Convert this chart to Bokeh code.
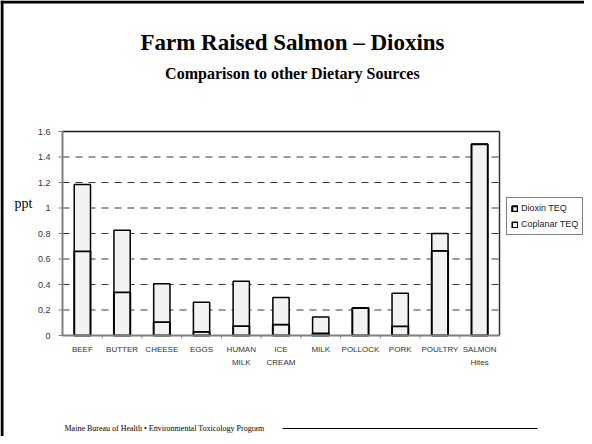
from bokeh.plotting import figure
from bokeh.models import Legend, LegendItem, Range1d, ColumnDataSource
from bokeh.core.properties import value
from bokeh.embed import file_html
from bokeh.resources import INLINE

# ---- data ----
categories = ["BEEF", "BUTTER", "CHEESE", "EGGS", "HUMAN\nMILK", "ICE\nCREAM",
              "MILK", "POLLOCK", "PORK", "POULTRY", "SALMON\nHites"]
dioxin_teq = [0.66, 0.34, 0.105, 0.03, 0.075, 0.087, 0.017, 0.215, 0.072, 0.665, 1.50]
coplanar_teq = [0.525, 0.485, 0.30, 0.23, 0.35, 0.212, 0.128, 0.0, 0.26, 0.135, 0.0]
y_ticks = [0, 0.2, 0.4, 0.6, 0.8, 1.0, 1.2, 1.4, 1.6]
y_tick_labels = ["0", "0.2", "0.4", "0.6", "0.8", "1", "1.2", "1.4", "1.6"]
series_names = ["Dioxin TEQ", "Coplanar TEQ"]

title_text = "Farm Raised Salmon \u2013 Dioxins"
subtitle_text = "Comparison to other Dietary Sources"
footer_text = "Maine Bureau of Health \u2022 Environmental Toxicology Program"
y_unit_text = "ppt"

# ---- layout (canvas pixels) ----
W, H = 584, 436
PL, PR, PT, PB = 62, 499, 131, 335          # plot area edges
n = len(categories)
y_max = y_ticks[-1]
px_cat = (PR - PL) / n
px_val = (PB - PT) / y_max

p = figure(width=W, height=H, x_range=Range1d(0, W), y_range=Range1d(H, 0),
           x_axis_type=None, y_axis_type=None, min_border=0,
           output_backend="svg", toolbar_location=None,
           background_fill_color="white", border_fill_color="white")
p.grid.visible = False
p.outline_line_color = None

p.extra_x_ranges = {"cat": Range1d(-PL / px_cat, n + (W - PR) / px_cat)}
p.extra_y_ranges = {"val": Range1d(-(H - PB) / px_val, y_max + PT / px_val)}
XR, YR = "cat", "val"

pos = [i + 0.5 for i in range(n)]
src = ColumnDataSource(dict(x=pos, dioxin=dioxin_teq, coplanar=coplanar_teq))

# dashed grid
grid_vals = y_ticks[1:-1]
p.segment(x0=[0] * len(grid_vals), x1=[n] * len(grid_vals), y0=grid_vals, y1=grid_vals,
          x_range_name=XR, y_range_name=YR, line_color="#3a3a3a", line_width=1.1,
          line_dash="7 6")

# frame: top & right
p.segment(x0=[0], x1=[n], y0=[y_max], y1=[y_max], x_range_name=XR, y_range_name=YR,
          line_color="#1a1a1a", line_width=1.5)
p.segment(x0=[n], x1=[n], y0=[0], y1=[y_max], x_range_name=XR, y_range_name=YR,
          line_color="#333333", line_width=1.5)

# bars
renderers = p.vbar_stack(["dioxin", "coplanar"], x="x", width=0.41, source=src,
                         x_range_name=XR, y_range_name=YR,
                         fill_color=["#f2f2f2", "#f2f2f2"], line_color="black",
                         line_width=[2, 1.5])

# axes lines
p.segment(x0=[0], x1=[0], y0=[0], y1=[y_max], x_range_name=XR, y_range_name=YR,
          line_color="#808080", line_width=2)
p.segment(x0=[0], x1=[n], y0=[0], y1=[0], x_range_name=XR, y_range_name=YR,
          line_color="#808080", line_width=2)

# y ticks and labels
p.segment(x0=[-4 / px_cat] * len(y_ticks), x1=[0] * len(y_ticks), y0=y_ticks, y1=y_ticks,
          x_range_name=XR, y_range_name=YR, line_color="#808080", line_width=1)
p.text(x=[0] * len(y_ticks), y=y_ticks, text=y_tick_labels, x_offset=-12,
       x_range_name=XR, y_range_name=YR, text_font=value("Liberation Sans"),
       text_font_size="9px", text_color="#333333", text_align="right",
       text_baseline="middle")

# x category separators and labels
bounds = list(range(1, n))
p.segment(x0=bounds, x1=bounds, y0=[0] * len(bounds), y1=[-3 / px_val] * len(bounds),
          x_range_name=XR, y_range_name=YR, line_color="#808080", line_width=1)
p.text(x=pos, y=[0] * n, text=categories, y_offset=9, x_range_name=XR, y_range_name=YR,
       text_font=value("Liberation Sans"), text_font_size="8px", text_color="#333333",
       text_align="center", text_baseline="top", text_line_height=1.5)

# titles and other texts (canvas pixels)
p.text(x=[292], y=[42], text=[title_text], text_font=value("Liberation Serif"),
       text_font_style="bold", text_font_size="23px", text_color="black",
       text_align="center", text_baseline="middle")
p.text(x=[292], y=[73], text=[subtitle_text], text_font=value("Liberation Serif"),
       text_font_style="bold", text_font_size="16px", text_color="black",
       text_align="center", text_baseline="middle")
p.text(x=[14], y=[203], text=[y_unit_text], text_font=value("Liberation Serif"),
       text_font_size="14px", text_color="black", text_align="left",
       text_baseline="middle")
p.text(x=[64], y=[428], text=[footer_text], text_font=value("Liberation Serif"),
       text_font_size="8px", text_color="black", text_align="left",
       text_baseline="middle")

# footer rule and slide border
p.segment(x0=[282], x1=[537], y0=[428], y1=[428], line_color="black", line_width=1.2)
p.quad(left=[0, 0], right=[3, W], top=[0, 0], bottom=[H, 3], fill_color="black",
       line_color=None)

# legend
legend = Legend(items=[LegendItem(label=series_names[0], renderers=[renderers[0]]),
                       LegendItem(label=series_names[1], renderers=[renderers[1]])],
                location=(506, H - 235))
legend.border_line_color = "black"
legend.border_line_width = 1
legend.background_fill_color = "white"
legend.background_fill_alpha = 1
legend.label_text_font = "Liberation Sans"
legend.label_text_font_size = "9px"
legend.label_text_color = "#222222"
legend.glyph_width = 7
legend.glyph_height = 7
legend.label_standoff = 3
legend.label_height = 12
legend.label_width = 10
legend.spacing = 4
legend.padding = 4
legend.margin = 0
p.add_layout(legend, "center")

open("out.html", "w").write(file_html(p, INLINE))
